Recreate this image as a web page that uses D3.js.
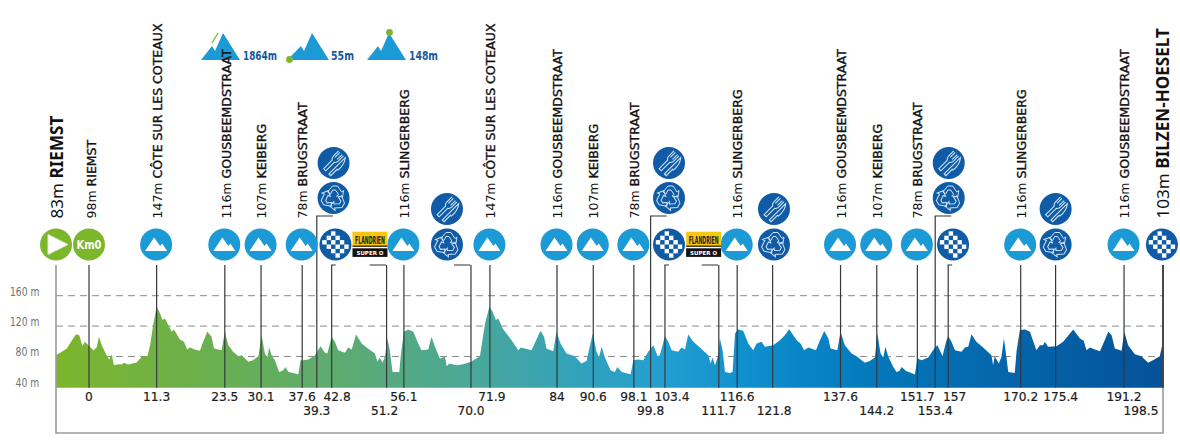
<!DOCTYPE html>
<html><head><meta charset="utf-8">
<style>html,body{margin:0;padding:0;background:#fff}svg{display:block}text{font-family:"DejaVu Sans",sans-serif}</style>
<script src="https://cdn.jsdelivr.net/npm/d3@7"></script></head><body><svg id="c" width="1180" height="445"></svg>
<script>
const profileKm=[-6.1,-5.05,-4.1,-3.2,-2.4,-1.8,-1.2,-0.8,-0.1,0.8,1.4,1.85,2.35,3.25,3.75,4.2,4.6,5.4,6.05,6.45,7.25,8.8,9.75,10.8,11.3,11.9,12.5,13,13.6,14.05,14.65,15.3,15.7,16.8,17.55,18.15,18.65,19.55,20.5,21.1,21.85,22.65,23.1,24.5,25.1,25.75,26.65,27.6,28.2,29.45,30.35,31.3,31.9,32.5,32.95,33.3,33.75,34.35,35.15,35.9,36.3,36.85,38.7,39.1,39.6,40.55,41.75,42.8,43.6,44.05,44.85,45.45,46.05,47.3,47.9,48.55,49.35,50.4,51.3,52.85,53.3,53.75,54.25,54.7,55.15,55.6,56.1,57.35,57.6,58.2,59,59.95,60.85,61.45,62.7,63.3,63.95,64.85,65.35,65.8,66.1,66.6,67.95,69.15,70.6,72.25,73.2,74,74.6,75.2,75.65,76.45,76.9,78.1,79.35,79.8,81.8,83.05,83.45,84.1,84.55,85.8,86.4,87.15,88.25,89.8,91,91.95,93.1,93.8,94.25,94.75,95.35,96.4,97.2,97.65,98.45,100.1,100.6,101.5,102.45,103.35,104.3,105.1,105.5,106.45,107.05,107.7,108.9,109.5,110.15,110.75,111.7,112.9,114.45,114.9,115.25,115.7,116.3,116.6,117.1,117.55,118.45,118.95,119.4,120,120.9,121.85,122.75,123.4,124.3,124.9,126.45,127.7,128.6,129.4,130.8,131.5,132.15,132.95,134.35,135.1,135.9,136.65,137.05,138.3,138.9,139.7,140.95,141.85,143.4,144.3,145.25,145.7,146.3,146.8,147.2,147.7,148.65,149.25,149.75,150.2,151,152.65,153.1,153.9,155.1,156.35,156.8,157.25,157.75,158.4,158.8,159.4,160.05,161.25,161.9,162.5,163.1,164,165.25,166.8,167.1,167.4,168.15,168.65,169.1,169.55,169.9,171.1,171.45,172.05,173,173.9,175.1,175.75,176.35,176.65,177.25,178.8,180.05,181.9,183.15,183.85,184.35,185,185.9,186.85,188.4,189,189.6,190.85,191.35,192.05,193.3,194.5,195.75,196.65,197.9,198.5];
const profileElev=[81.7,86.1,90.5,100.6,109.4,108.1,93.6,99.3,94.9,88.3,91.8,105.9,94.9,81.7,76,83,68.5,69.8,69.4,71.6,69.4,72,79.5,80.4,94.9,123.5,145.5,138.9,127.9,130.1,121.3,112.5,115.6,102.4,99.3,89.2,91.8,89.2,87.4,99.3,112.5,105.9,90.5,88.3,112.5,94.9,86.1,80.4,81.7,72.9,75.1,80.4,108.1,83.9,78.6,91.8,81.7,75.1,59.7,61.9,66.3,59.7,56.6,75.1,75.1,76,81.7,93.6,84.8,83.9,105.9,99.3,88.3,84.8,91.8,89.2,109,97.1,91.8,83.9,72.9,78.6,71.6,80.4,103.7,88.3,59.7,59.7,79.5,112.5,115.6,112.5,97.1,88.3,89.2,105.9,92.7,77.3,78.6,79.5,67.2,70.7,68.5,69.8,72.9,80.4,123.5,145.5,138.9,127.9,130.1,116.9,112.5,101.5,88.3,91.8,88.3,108.1,113.8,105.9,90.5,87,112.5,97.1,83.9,80.4,70.7,74.2,110.3,86.1,78.6,92.7,78.6,61.9,59.7,66.3,59.7,56.6,75.1,76,75.1,86.1,94.9,80.4,81.7,106.8,99.3,88.3,86.1,91.8,89.2,109,99.3,91.8,81.7,70.7,78.6,68.5,81.7,103.7,88.3,59.7,58.4,59.7,110.3,115.6,113.8,97.1,88.3,97.1,99.3,92.7,94.9,101.5,108.1,116,101.5,97.1,88.3,91.8,88.3,101.5,113.4,103.7,90.5,88.3,112.5,94.9,83.9,80.4,71.6,74.2,78.6,110.3,83.9,78.6,92.7,80.4,66.3,59.7,61,66.3,61,56.2,77.3,75.1,78.6,91.8,94.9,88.3,80.4,99.3,106.8,99.3,88.3,86.1,91.8,92.7,109.4,99.3,91.8,81.7,68.5,80.4,70.7,79.5,103.7,79.5,59.7,58.4,88.3,114.7,115.6,112.5,88.3,94.9,94.9,99.3,92.7,93.6,99.3,115.6,103.7,100.6,88.3,91.8,89.2,87,112.5,108.1,90.5,87.4,112.5,94.9,83,80.4,71.6,75.1,80.4,99.3];

const markerPos=[0,12.5,25.1,31.8,39.4,42.1,44.85,55.0,58.2,70.6,74.1,86.5,93.2,100.7,103.8,106.45,116.4,119.8,126.35,138.9,145.6,153.1,156.4,158.8,172.2,178.65,191.3,198.5];
const markerLabels=["0","11.3","23.5","30.1","37.6","39.3","42.8","51.2","56.1","70.0","71.9","84","90.6","98.1","99.8","103.4","111.7","116.6","121.8","137.6","144.2","151.7","153.4","157","170.2","175.4","191.2","198.5"];
const markerRow=[0,0,0,0,0,1,0,1,0,1,0,0,0,0,1,0,1,0,1,0,1,0,1,0,0,0,0,1];
const markerBracket=["","","","","","tall","short","left","","left","","","","","tall","short","left","","","","","","tall","short","","","",""];

const climbPos=[0,12.5,25.1,31.8,39.4,58.2,74.1,86.5,93.2,100.7,119.8,138.9,145.6,153.1,172.2,191.3];
const climbHeights=["98m","147m","116m","107m","78m","116m","147m","116m","107m","78m","116m","116m","107m","78m","116m","116m"];
const climbNames=["RIEMST","CÔTE SUR LES COTEAUX","GOUSBEEMDSTRAAT","KEIBERG","BRUGSTRAAT","SLINGERBERG","CÔTE SUR LES COTEAUX","GOUSBEEMDSTRAAT","KEIBERG","BRUGSTRAAT","SLINGERBERG","GOUSBEEMDSTRAAT","KEIBERG","BRUGSTRAAT","SLINGERBERG","GOUSBEEMDSTRAAT"];
const checkerPos=[45.55,107.2,159.7,198.3];
const sponsorPos=[51.93,113.6];
const serviceLow=[66.16,126.6,178.65];
const serviceHigh=[45.2,107.2,158.9];
const elevTicks=[40,80,120,160];
const guideTicks=[80,120,160];
const legendValues=["1864m","55m","148m"];

const svg=d3.select("#c");
const x=d3.scaleLinear().domain([-6.1,198.5]).range([56,1163]);
const y=d3.scaleLinear().domain([38.9,160]).range([387.7,295.7]);
const defs=svg.append("defs");
const grad=defs.append("linearGradient").attr("id","grad").attr("gradientUnits","userSpaceOnUse").attr("x1",56).attr("x2",1163).attr("y1",0).attr("y2",0);
[[0,"#7cb62b"],[.12,"#6db04a"],[.26,"#5cab72"],[.38,"#4aa79a"],[.47,"#32a2bb"],[.55,"#229fd0"],[.64,"#0c8ccb"],[.74,"#0478ba"],[.86,"#0565aa"],[1,"#045298"]].forEach(s=>grad.append("stop").attr("offset",s[0]).attr("stop-color",s[1]));

// legend (drawn first: a climb name runs over it)
const blue="#1b9ad6",dark="#0f5ba6",green="#7cb62b";
const legendPeaks=[223,312,389];
const legendLeft=[22,25,22];
legendPeaks.forEach((pk,i)=>{
  const l=legendLeft[i];
  svg.append("path").attr("d",`M${pk-l},60L${pk-11},46L${pk-8},51L${pk},33L${pk+17},60Z`).attr("fill",blue);
  svg.append("text").attr("x",[243,331,409][i]).attr("y",60).attr("font-size",13).attr("font-weight",700).attr("fill","#14589e").attr("textLength",[34,23,29][i]).attr("lengthAdjust","spacingAndGlyphs").text(legendValues[i]);
});
svg.append("line").attr("x1",212).attr("y1",43).attr("x2",218).attr("y2",33).attr("stroke",green).attr("stroke-width",1.3);
svg.append("circle").attr("cx",289.5).attr("cy",59.5).attr("r",3.4).attr("fill",green);
svg.append("circle").attr("cx",389.5).attr("cy",32.5).attr("r",3.4).attr("fill",green);

// guides
svg.selectAll(".guide").data(guideTicks).join("line").attr("x1",x(-6.1)).attr("x2",x(198.5)).attr("y1",d=>y(d)).attr("y2",d=>y(d))
  .attr("stroke","#8a8a8a").attr("stroke-width",1).attr("stroke-dasharray","7 5");
// area
const area=d3.area().x((d,i)=>x(profileKm[i])).y0(y(38.9)).y1(d=>y(d)).curve(d3.curveLinear);
svg.append("path").datum(profileElev).attr("d",area).attr("fill","url(#grad)");
// elevation labels
svg.selectAll(".et").data(elevTicks).join("text").attr("x",d=>d==160||d==120?10:15.5).attr("y",d=>y(d))
  .attr("font-size",13).attr("fill","#707070").attr("textLength",d=>d>=120?29.3:23.7).attr("lengthAdjust","spacingAndGlyphs").text(d=>d+" m");
// frame
const topY=265, botY=433;
svg.append("path").attr("d",`M${x(-6.1)},${topY}V${botY}H${x(198.5)}V${topY}`).attr("fill","none").attr("stroke","#9a9a9a").attr("stroke-width",1.6);
svg.append("line").attr("x1",x(198.5)).attr("x2",x(198.5)).attr("y1",topY).attr("y2",y(38.9)).attr("stroke","#444").attr("stroke-width",1.4);
// markers
const base=y(38.9);
const labelNudge={"42.8":5.5,"103.4":7,"157":6.5,"175.4":5,"51.2":-2,"121.8":1.5,"198.5":-22,"71.9":2};
markerPos.forEach((p,i)=>{
  const px=x(p),b=markerBracket[i];
  const t=b=="tall"?216:topY;
  svg.append("line").attr("x1",px).attr("x2",px).attr("y1",t).attr("y2",base).attr("stroke","#33393d").attr("stroke-width",1.2);
  let hx=null;
  if(b=="tall")hx=px+16; if(b=="short")hx=px+4; if(b=="left")hx=px-17;
  if(hx!==null)svg.append("line").attr("x1",px-.6).attr("x2",hx).attr("y1",t).attr("y2",t).attr("stroke","#444").attr("stroke-width",1.1);
  svg.append("text").attr("x",px+(labelNudge[markerLabels[i]]||0)).attr("y",markerRow[i]?415.3:401).attr("text-anchor","middle")
    .attr("font-size",12.2).attr("fill","#1c1c1c").attr("stroke","#1c1c1c").attr("stroke-width",.2).text(markerLabels[i]);
});
// rotated labels
function vlabel(px,h,name,size,strong){
  const t=svg.append("text").attr("transform",`translate(${px},218.5) rotate(-90)`).attr("font-size",size).attr("fill","#111");
  if(strong){t.style("font-family",'"Noto Sans"');}
  t.append("tspan").attr("font-weight",400).text(h+" ");
  const n=t.append("tspan").attr("font-weight",strong?700:400).text(name);
  if(!strong)n.attr("stroke","#111").attr("stroke-width",.35);
}
vlabel(x(-6.1)+6.5,"83m","RIEMST",17.1,true);
climbPos.forEach((p,i)=>vlabel(x(p)+(i==0?7:i==2?6.5:5),climbHeights[i],climbNames[i],12.5,false));
vlabel(x(198.5)+5.5,"103m","BILZEN-HOESELT",17.1,true);

// icons
function circle(cx,cy,fill){return svg.append("circle").attr("cx",cx).attr("cy",cy).attr("r",16).attr("fill",fill);}
function mountainIcon(cx,cy){circle(cx,cy,blue);
  svg.append("path").attr("d",`M${cx-11},${cy+6.5}L${cx-2},${cy-7}L${cx+4},${cy+1.5}L${cx+6},${cy-1}L${cx+11},${cy+6.5}Z`).attr("fill","#fff");}
function checkerIcon(cx,cy){circle(cx,cy,dark);const s=4.4;
  const gg=svg.append("g");
  for(let r=-3;r<=2;r++)for(let c=-3;c<=2;c++){if((r+c+100)%2)continue;
    const xx=cx+c*s,yy=cy+r*s; if(Math.hypot(xx+s/2-cx,yy+s/2-cy)>12.8)continue;
    gg.append("rect").attr("x",xx).attr("y",yy).attr("width",s).attr("height",s).attr("fill","#fff");}}
function recycleIcon(cx,cy){circle(cx,cy,dark);
  const gg=svg.append("g").attr("transform",`translate(${cx},${cy})`).attr("fill","none").attr("stroke","#cfe3f4").attr("stroke-width",1);
  [0,120,240].forEach(a=>{gg.append("path").attr("transform",`rotate(${a})`).attr("d","M-6,-6L-1,-12L4,-12L8,-6L10,-7.5L9,-1L3,-2L5,-3.5L2,-8L-1,-8L-3,-4Z");});}
function foodIcon(cx,cy){circle(cx,cy,dark);
  const gg=svg.append("g").attr("transform",`translate(${cx},${cy}) rotate(45)`).attr("fill","none").attr("stroke","#cfe3f4").attr("stroke-width",1.1);
  gg.append("path").attr("d","M-5,-12V-5Q-5,-2 -3,-1V11H0V-1Q2,-2 2,-5V-12M-3,-12V-5M0,-12V-5");
  gg.append("path").attr("d","M4.5,11V-12Q9,-7 8,2H7V11Z");}
const rowY=244.5;
circle(x(-6.1),rowY,green);
svg.append("path").attr("d",`M${x(-6.1)-8},${rowY-10}L${x(-6.1)+12},${rowY}L${x(-6.1)-8},${rowY+10}Z`).attr("fill","#fff").attr("stroke","#dfeac8").attr("stroke-width",1);
circle(x(0),rowY,green);
svg.append("text").attr("x",x(0)-12.5).attr("y",rowY+4.5).attr("font-size",12).attr("font-weight",700).attr("fill","#fff").attr("textLength",25).attr("lengthAdjust","spacingAndGlyphs").text("Km0");
climbPos.slice(1).forEach(p=>mountainIcon(x(p)-.5,rowY));
checkerPos.forEach(p=>checkerIcon(x(p),rowY));
serviceLow.forEach(p=>{recycleIcon(x(p),rowY);foodIcon(x(p),rowY-35.5);});
serviceHigh.forEach(p=>{recycleIcon(x(p),198);foodIcon(x(p),163);});
// sponsor badge
sponsorPos.forEach(p=>{const cx=x(p);
  svg.append("rect").attr("x",cx-17.5).attr("y",231.7).attr("width",35).attr("height",15).attr("fill","#f7c712");
  svg.append("rect").attr("x",cx-17.5).attr("y",245.5).attr("width",35).attr("height",1.4).attr("fill","#3a3020");
  svg.append("text").attr("x",cx-15).attr("y",243.5).attr("font-size",10).attr("font-weight",700).attr("fill","#222").attr("textLength",30).attr("lengthAdjust","spacingAndGlyphs").text("FLANDRIEN");
  svg.append("rect").attr("x",cx-17.5).attr("y",248.3).attr("width",35).attr("height",8.6).attr("fill","#111");
  svg.append("text").attr("x",cx).attr("y",255).attr("text-anchor","middle").attr("font-size",5.5).attr("font-weight",700).attr("fill","#fff").text("SUPER O");
});
</script></body></html>
